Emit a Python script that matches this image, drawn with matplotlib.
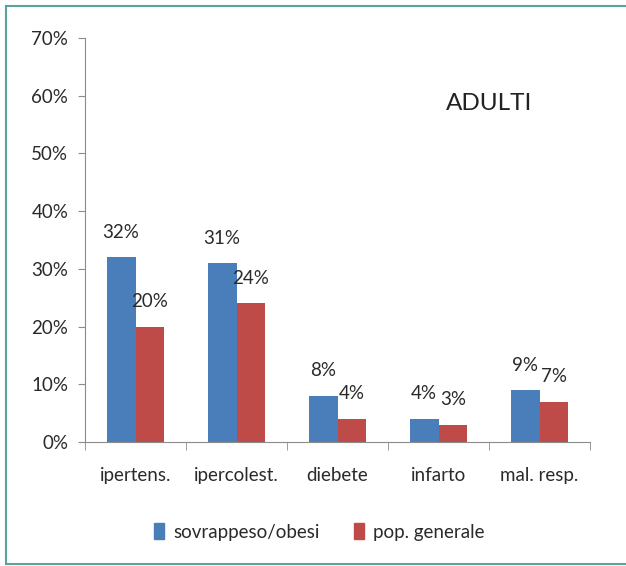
import matplotlib.pyplot as plt
from matplotlib.patches import Patch
from matplotlib.lines import Line2D
import numpy as np

# Dati: percentuali per patologia
categorie = ['ipertens.', 'ipercolest.', 'diebete', 'infarto', 'mal. resp.']
sovrappeso = [32, 31, 8, 4, 9]
popolazione = [20, 24, 4, 3, 7]
serie = ['sovrappeso/obesi', 'pop. generale']
yticks = [0, 10, 20, 30, 40, 50, 60, 70]

blu = '#4A7EBB'
rosso = '#BE4B48'
testo = '#2a2a2a'

plt.rcParams['font.family'] = ['Lato', 'DejaVu Sans']

fig = plt.figure(figsize=(6.26, 5.66), dpi=100)
ax = fig.add_axes([0.1358, 0.2191, 0.8067, 0.7138])

x = np.arange(len(categorie))
w = 0.285
b1 = ax.bar(x - w/2, sovrappeso, w, color=blu)
b2 = ax.bar(x + w/2, popolazione, w, color=rosso)

for bars, vals in ((b1, sovrappeso), (b2, popolazione)):
    for r, v in zip(bars, vals):
        ax.annotate('%d%%' % v, (r.get_x() + r.get_width()/2, v),
                    xytext=(0, 18), textcoords='offset points',
                    ha='center', va='center', fontsize=13.5, color=testo)

ax.set_xlim(-0.5, len(categorie) - 0.5)
ax.set_ylim(0, 70)
ax.set_yticks(yticks)
ax.set_yticklabels(['%d%%' % t for t in yticks])
ax.set_xticks(x)
ax.set_xticklabels(categorie)
ax.set_xticks(np.arange(-0.5, len(categorie)), minor=True)
ax.tick_params(axis='x', which='major', length=0, pad=18, labelsize=13.5, colors=testo)
ax.tick_params(axis='x', which='minor', length=6, color='#8c8c8c')
ax.tick_params(axis='y', length=5, pad=7, labelsize=13.5, colors=testo, color='#8c8c8c')

for s in ('top', 'right'):
    ax.spines[s].set_visible(False)
for s in ('left', 'bottom'):
    ax.spines[s].set_color('#8c8c8c')

ax.text(0.80, 0.837, 'ADULTI', transform=ax.transAxes, ha='center', va='center',
        fontsize=17.5, color='#222222')

fig.legend(handles=[Patch(color=blu), Patch(color=rosso)], labels=serie,
           loc='center', bbox_to_anchor=(0.51, 0.06), ncol=2, frameon=False,
           fontsize=13.5, handlelength=0.55, handleheight=0.9, handletextpad=0.5,
           columnspacing=1.8, labelcolor=testo)

# cornice
bordo = '#5AA39A'
fig.add_artist(Line2D([0.0096, 1.0], [0.989, 0.989], color=bordo, lw=1.5))
fig.add_artist(Line2D([0.0096, 0.0096], [0.004, 0.989], color=bordo, lw=1.5))
fig.add_artist(Line2D([0.0096, 1.0], [0.004, 0.004], color=bordo, lw=1.5))

fig.savefig('out.png', dpi=100)
